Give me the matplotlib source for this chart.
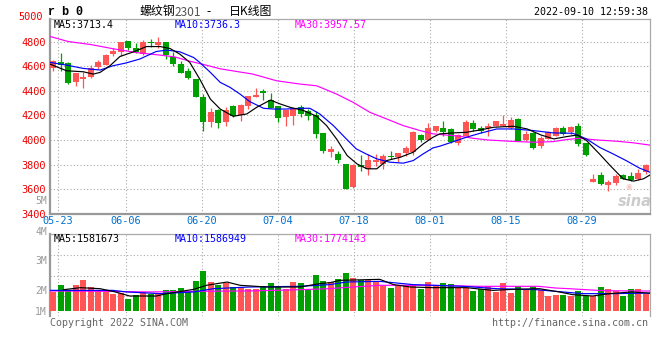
import matplotlib.pyplot as plt
import numpy as np

# daily candles rb0 (螺纹钢2301), 05-20 .. 09-09
opens = [4584, 4630, 4624, 4468, 4495, 4508, 4589, 4613, 4695, 4711,
         4805, 4751, 4697, 4800, 4770, 4792, 4678, 4616, 4562, 4495,
         4346, 4149, 4240, 4149, 4273, 4203, 4278, 4349, 4395, 4324,
         4273, 4184, 4192, 4265, 4238, 4203, 4057, 3905, 3886, 3805,
         3616, 3800, 3765, 3824, 3805, 3873, 3859, 3894, 3905, 4043,
         4003, 4076, 4097, 4089, 3976, 4035, 4138, 4097, 4097, 4116,
         4116, 4095, 4170, 4000, 4057, 3954, 4008, 4035, 4097, 4062,
         4111, 3976, 3657, 3711, 3630, 3651, 3716, 3705, 3684, 3738]
highs = [4651, 4705, 4630, 4543, 4554, 4608, 4651, 4697, 4751, 4797,
         4805, 4786, 4811, 4824, 4840, 4792, 4711, 4643, 4581, 4495,
         4373, 4257, 4251, 4265, 4284, 4292, 4359, 4419, 4413, 4378,
         4278, 4246, 4251, 4284, 4251, 4238, 4057, 3949, 3913, 3805,
         3805, 3878, 3886, 3886, 3886, 3913, 3894, 3949, 4070, 4051,
         4135, 4116, 4157, 4095, 4045, 4160, 4165, 4116, 4138, 4157,
         4203, 4184, 4175, 4076, 4062, 4030, 4076, 4103, 4111, 4116,
         4138, 3976, 3719, 3738, 3670, 3719, 3720, 3738, 3765, 3805]
lows = [4557, 4562, 4454, 4440, 4422, 4503, 4576, 4608, 4684, 4684,
        4732, 4705, 4689, 4759, 4751, 4657, 4597, 4543, 4495, 4346,
        4076, 4108, 4095, 4116, 4184, 4157, 4251, 4346, 4327, 4257,
        4143, 4116, 4124, 4184, 4165, 4014, 3894, 3859, 3813, 3597,
        3608, 3751, 3716, 3784, 3765, 3846, 3819, 3873, 3878, 3981,
        4003, 4068, 4030, 3975, 3959, 4030, 4076, 4057, 4035, 4111,
        4116, 4089, 3995, 3995, 3925, 3932, 4008, 4035, 4040, 4040,
        3949, 3867, 3657, 3630, 3581, 3630, 3680, 3662, 3678, 3724]
closes = [4638, 4608, 4462, 4543, 4514, 4581, 4630, 4692, 4722, 4797,
          4746, 4716, 4792, 4784, 4792, 4689, 4616, 4543, 4500, 4351,
          4149, 4230, 4135, 4246, 4192, 4284, 4359, 4365, 4378, 4257,
          4176, 4246, 4251, 4211, 4192, 4049, 3908, 3922, 3840, 3597,
          3792, 3778, 3838, 3840, 3873, 3859, 3894, 3932, 4062, 4003,
          4100, 4116, 4062, 3981, 4040, 4149, 4089, 4070, 4111, 4157,
          4130, 4165, 3995, 4049, 3932, 4013, 4062, 4097, 4049, 4108,
          3968, 3878, 3684, 3643, 3657, 3703, 3684, 3670, 3732, 3797]
# volume, millions of lots
volumes = [1.69, 2.28, 1.89, 2.28, 2.72, 2.13, 1.83, 1.69, 1.48, 1.60,
           1.04, 1.39, 1.69, 1.54, 1.54, 1.83, 1.83, 2.04, 1.69, 2.63,
           3.55, 2.57, 2.28, 2.51, 2.13, 2.13, 1.98, 1.92, 2.19, 2.49,
           2.13, 1.98, 2.57, 2.49, 1.83, 3.17, 2.63, 2.57, 2.81, 3.37,
           2.93, 2.72, 2.72, 2.66, 2.22, 2.04, 2.28, 2.34, 2.28, 1.92,
           2.57, 2.22, 2.49, 2.37, 2.04, 2.04, 1.75, 1.98, 2.19, 1.69,
           2.49, 1.60, 2.19, 1.98, 2.19, 1.89, 1.33, 1.39, 1.39, 1.33,
           1.75, 1.33, 1.33, 2.13, 1.92, 1.78, 1.33, 1.92, 1.92, 1.54]

date_labels = ["05-23", "06-06", "06-20", "07-04", "07-18", "08-01", "08-15", "08-29"]
date_idx = [1, 10, 20, 30, 40, 50, 60, 70]
price_ticks = [3400, 3600, 3800, 4000, 4200, 4400, 4600, 4800]

# moving averages (candle index, value)
ma5_x = [-0.4, 1.82, 4.05, 5.37, 6.28, 7.6, 8.92, 10.74, 12.46, 14.29, 15.61, 16.92, 18.24,
         19.56, 20.98, 22.29, 24.02, 25.84, 27.16, 28.98, 30.3, 31.62, 33.44, 35.16, 36.48,
         37.8, 39.22, 40.53, 41.85, 43.17, 44.49, 46.31, 48.03, 49.35, 50.67, 51.58, 53.4,
         55.13, 56.95, 58.77, 61.41, 63.23, 65.06, 66.78, 68.5, 69.92, 71.14, 72.86, 74.28,
         76.0, 77.42, 78.74, 79.55]
ma5_y = [4616, 4562, 4554, 4535, 4549, 4603, 4678, 4716, 4759, 4759, 4743, 4697, 4630, 4495,
         4332, 4251, 4192, 4211, 4265, 4324, 4292, 4265, 4238, 4192, 4116, 4008, 3873,
         3805, 3765, 3765, 3832, 3859, 3900, 3967, 4022, 4049, 4057, 4062, 4081, 4103,
         4111, 4089, 4040, 4008, 4027, 4040, 3995, 3886, 3792, 3684, 3665, 3684, 3713]
ma10_x = [-0.4, 1.82, 4.05, 6.28, 8.01, 9.63, 11.55, 13.78, 15.2, 16.92, 18.75, 19.56, 20.98,
          22.29, 23.61, 24.93, 26.25, 28.07, 29.39, 31.11, 32.93, 34.25, 35.57, 37.39, 39.11,
          40.43, 41.75, 43.17, 44.89, 46.71, 48.03, 49.35, 50.67, 51.58, 53.4, 55.13, 56.95,
          59.18, 61.41, 64.04, 66.68, 69.31, 71.14, 72.86, 74.68, 76.41, 78.23, 79.55]
ma10_y = [4630, 4608, 4581, 4568, 4603, 4624, 4657, 4719, 4730, 4716, 4670, 4630, 4549, 4468,
          4427, 4373, 4311, 4257, 4251, 4251, 4257, 4257, 4211, 4116, 4008, 3927, 3886,
          3846, 3819, 3811, 3832, 3886, 3935, 3949, 3986, 4022, 4054, 4089, 4089, 4076,
          4057, 4054, 4008, 3940, 3886, 3832, 3770, 3738]
ma30_x = [-0.4, 2.03, 5.07, 8.11, 11.15, 14.19, 16.21, 18.24, 20.27, 22.29, 26.65, 29.79,
          32.93, 35.16, 37.8, 40.03, 42.26, 44.49, 46.71, 48.94, 50.67, 54.21, 56.04, 57.86,
          60.9, 64.04, 66.68, 68.5, 70.22, 72.45, 75.19, 77.42, 79.55]
ma30_y = [4841, 4800, 4775, 4740, 4710, 4690, 4675, 4640, 4610, 4578, 4535, 4481, 4454,
          4440, 4373, 4305, 4224, 4170, 4116, 4076, 4049, 4030, 4013, 4000, 3989, 3981,
          3986, 4003, 4013, 4000, 3989, 3976, 3958]

vma5_x = [1.42, 3.65, 6.28, 8.31, 10.23, 13.78, 15.2, 18.75, 20.47, 23.21, 24.93, 28.47,
          32.93, 35.57, 36.89, 38.3, 43.57, 45.4, 47.63, 50.67, 55.13, 58.67, 61.31, 64.85,
          67.49, 69.31, 71.95, 74.18, 77.22, 79.55]
vma5_y = [1.89, 2.07, 1.98, 1.69, 1.33, 1.33, 1.54, 1.92, 2.28, 2.57, 2.28, 2.13, 2.13, 2.43,
          2.51, 2.72, 2.81, 2.34, 2.13, 2.07, 2.07, 1.83, 1.92, 1.98, 1.69, 1.45, 1.33,
          1.54, 1.69, 1.58]
vma10_x = [-0.4, 8.01, 9.83, 14.29, 18.75, 21.38, 26.25, 32.93, 36.89, 39.11, 43.57, 48.03,
           54.72, 59.18, 64.45, 68.0, 70.63, 74.68, 79.55]
vma10_y = [1.83, 1.83, 1.69, 1.54, 1.69, 1.98, 2.13, 2.19, 2.34, 2.57, 2.63, 2.34, 2.19, 1.98,
           1.89, 1.69, 1.54, 1.54, 1.59]
vma30_x = [-0.4, 6.28, 12.97, 19.56, 26.25, 32.93, 36.89, 38.0, 43.57, 50.16, 56.75, 64.75,
           66.98, 68.81, 71.03, 73.67, 79.55]
vma30_y = [1.78, 1.75, 1.69, 1.75, 1.78, 1.89, 1.98, 2.04, 2.28, 2.28, 2.19, 2.19, 2.04, 1.98,
           1.89, 1.80, 1.77]

RED, GREEN = "#ff5555", "#00a000"
GRID = "#aaaaaa"
MONO = "DejaVu Sans Mono"
W, H = 660, 360


def box(x0, y0, x1, y1):
    return [x0 / W, 1 - y1 / H, (x1 - x0) / W, (y1 - y0) / H]


fig = plt.figure(figsize=(W / 100, H / 100), dpi=100)
ax = fig.add_axes(box(50, 19, 650, 213.7))
vax = fig.add_axes(box(50, 234, 650, 316))

n = len(closes)
x = np.arange(n)
o, c = np.array(opens), np.array(closes)
colors = [RED if cc >= oo else GREEN for oo, cc in zip(o, c)]
xlim = (-0.4, n - 0.4)
# the site spaces its date grid over n-1 slots, not n
grid_x = np.array(date_idx) * n / (n - 1) - 0.4

# --- price panel
ax.vlines(x, lows, highs, colors=colors, lw=0.9, zorder=3)
body = np.maximum(np.abs(c - o), 6)
ax.bar(x, body, width=0.8, bottom=np.minimum(o, c), color=colors, lw=0, zorder=3)
ax.plot(ma30_x, ma30_y, color="#ff00ff", lw=0.85, zorder=4)
ax.plot(ma10_x, ma10_y, color="#0000ff", lw=0.85, zorder=4)
ax.plot(ma5_x, ma5_y, color="black", lw=0.85, zorder=4)

ax.set_xlim(xlim)
ax.set_ylim(3400, 4983)
ax.set_yticks(price_ticks)
ax.set_xticks(grid_x, date_labels)
ax.grid(True, color=GRID, ls=(0, (1, 2)), lw=0.8)
ax.tick_params(length=0, labelsize=7.4)
ax.tick_params(axis="y", labelcolor="#ee0000", pad=3)
ax.tick_params(axis="x", labelcolor="#0070d0", pad=2)
for lbl in ax.get_xticklabels() + ax.get_yticklabels():
    lbl.set_family(MONO)
ax.text(-0.012, 5000, "5000", transform=ax.get_yaxis_transform(), ha="right", va="center",
        color="#ee0000", fontsize=7.4, family=MONO, clip_on=False)

# --- volume panel
vscale = 11.27  # px per million
vax.bar(x, volumes, width=0.8, color=colors, lw=0, zorder=3)
vax.plot(vma30_x, vma30_y, color="#ff00ff", lw=0.85, zorder=4)
vax.plot(vma10_x, vma10_y, color="#0000ff", lw=0.85, zorder=4)
vax.plot(vma5_x, vma5_y, color="black", lw=0.85, zorder=4)
vax.set_xlim(xlim)
vax.set_ylim(-5 / vscale, 77 / vscale)
vax.set_yticks([(311 - yy) / vscale for yy in (255, 275.5, 296)])
vax.set_xticks(grid_x)
vax.grid(True, color=GRID, ls=(0, (1, 2)), lw=0.8)
vax.tick_params(length=0, labelleft=False, labelbottom=False)

for a in (ax, vax):
    for side in ("left", "bottom"):
        a.spines[side].set_color("#999999")
        a.spines[side].set_linewidth(1.6)
    for side in ("top", "right"):
        a.spines[side].set_color("#aaaaaa")
        a.spines[side].set_linewidth(0.9)
vax.spines["bottom"].set_visible(False)


def ftext(px, py, s, **kw):
    kw.setdefault("family", MONO)
    kw.setdefault("fontsize", 7.2)
    kw.setdefault("va", "center")
    fig.text(px / W, 1 - py / H, s, **kw)


# headers
ftext(48, 12, "r b 0", fontsize=8.5, weight="bold", family="Liberation Mono")
cjk = ["Noto Sans CJK SC", "DejaVu Sans"]
ftext(140, 12, "螺纹钢", family=cjk, fontsize=8.6)
ftext(175, 12, "2301", family=cjk, fontsize=8.6, color="#555555")
ftext(206, 12, "-", family=cjk, fontsize=8.6)
ftext(229, 12, "日K线图", family=cjk, fontsize=8.6)
ftext(648, 12, "2022-09-10 12:59:38", ha="right")

ftext(54, 24.5, "MA5:3713.4", color="black")
ftext(175, 24.5, "MA10:3736.3", color="#0000ff")
ftext(295, 24.5, "MA30:3957.57", color="#ff00ff")
ftext(54, 239, "MA5:1581673", color="black")
ftext(175, 239, "MA10:1586949", color="#0000ff")
ftext(295, 239, "MA30:1774143", color="#ff00ff")

for lab, py in zip(["5M", "4M", "3M", "2M", "1M"], [201, 231.5, 260.5, 291, 312]):
    ftext(47, py, lab, ha="right", color="#999999", fontsize=7.0)

ftext(50, 323, "Copyright 2022 SINA.COM", color="#666666")
ftext(648, 323, "http://finance.sina.com.cn", color="#666666", ha="right")
# watermark
ftext(629, 186, "◉", family="DejaVu Sans", fontsize=5.5, color="#f2c6c6", ha="center")
ftext(635, 201, "sina", family="DejaVu Sans", fontsize=10.5, style="italic",
      weight="bold", color="#cccccc", ha="center")

fig.savefig("out.png", dpi=100)
